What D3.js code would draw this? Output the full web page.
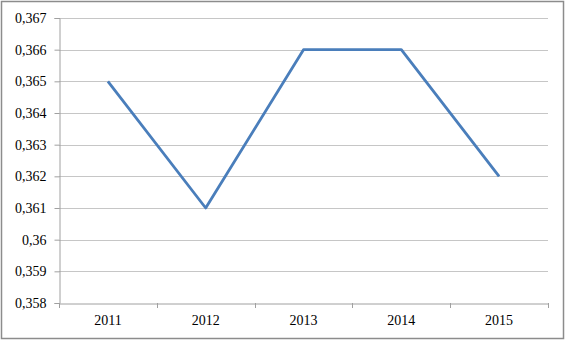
<!DOCTYPE html>
<html><head><meta charset="utf-8">
<script src="https://cdn.jsdelivr.net/npm/d3@7"></script>
<style>body{margin:0;background:#fff}svg{display:block}svg text{font-family:"Liberation Serif","Times New Roman",serif !important;}</style>
</head><body>
<script>
const categories = ["2011","2012","2013","2014","2015"];
const values = [0.365, 0.361, 0.366, 0.366, 0.362];
const yTicks = [0.358,0.359,0.360,0.361,0.362,0.363,0.364,0.365,0.366,0.367];

const W=566,H=341;
const m={left:59,right:18,top:18,bottom:38};
const svg=d3.select("body").append("svg").attr("width",W).attr("height",H);
svg.append("rect").attr("x",1.5).attr("y",1.5).attr("width",W-4).attr("height",H-4)
  .attr("fill","#fff").attr("stroke","#8c8c8c").attr("stroke-width",1.5);
const x=d3.scaleBand().domain(categories).range([m.left,W-m.right]);
const y=d3.scaleLinear().domain([0.358,0.367]).range([H-m.bottom,m.top]);
const fmt=d=>d3.format(".3~f")(d).replace(".",",");
// gridlines
svg.append("g").selectAll("line").data(yTicks.slice(1)).join("line")
  .attr("x1",m.left).attr("x2",W-m.right)
  .attr("y1",d=>Math.round(y(d))+0.5).attr("y2",d=>Math.round(y(d))+0.5)
  .attr("stroke","#c6c6c6");
// y axis
const ya=svg.append("g").attr("transform",`translate(${m.left+0.5},0)`)
  .call(d3.axisLeft(y).tickValues(yTicks).tickFormat(fmt).tickSize(5).tickPadding(8));
ya.attr("font-family",null);
ya.select(".domain").attr("stroke","#a0a0a0");
ya.selectAll(".tick line").attr("stroke","#a0a0a0");
ya.selectAll("text").attr("font-size",14).attr("fill","#000");
// x axis
const xa=svg.append("g").attr("transform",`translate(0,${Math.round(H-m.bottom)+0.5})`)
  .call(d3.axisBottom(x).tickSize(0).tickPadding(12));
xa.attr("font-family",null);
xa.select(".domain").attr("stroke","#a0a0a0");
xa.selectAll("text").attr("font-size",14).attr("fill","#000");
const bounds=[...categories.map(c=>x(c)),x.range()[1]];
svg.append("g").selectAll("line").data(bounds).join("line")
  .attr("x1",d=>Math.round(d)+0.5).attr("x2",d=>Math.round(d)+0.5)
  .attr("y1",Math.round(H-m.bottom)).attr("y2",Math.round(H-m.bottom)+5)
  .attr("stroke","#a0a0a0");
// line
const line=d3.line().x((d,i)=>x(categories[i])+x.bandwidth()/2).y(d=>y(d));
svg.append("path").datum(values).attr("d",line).attr("fill","none")
  .attr("stroke","#4a7ebb").attr("stroke-width",2.8).attr("stroke-linejoin","round");
</script>
</body></html>
